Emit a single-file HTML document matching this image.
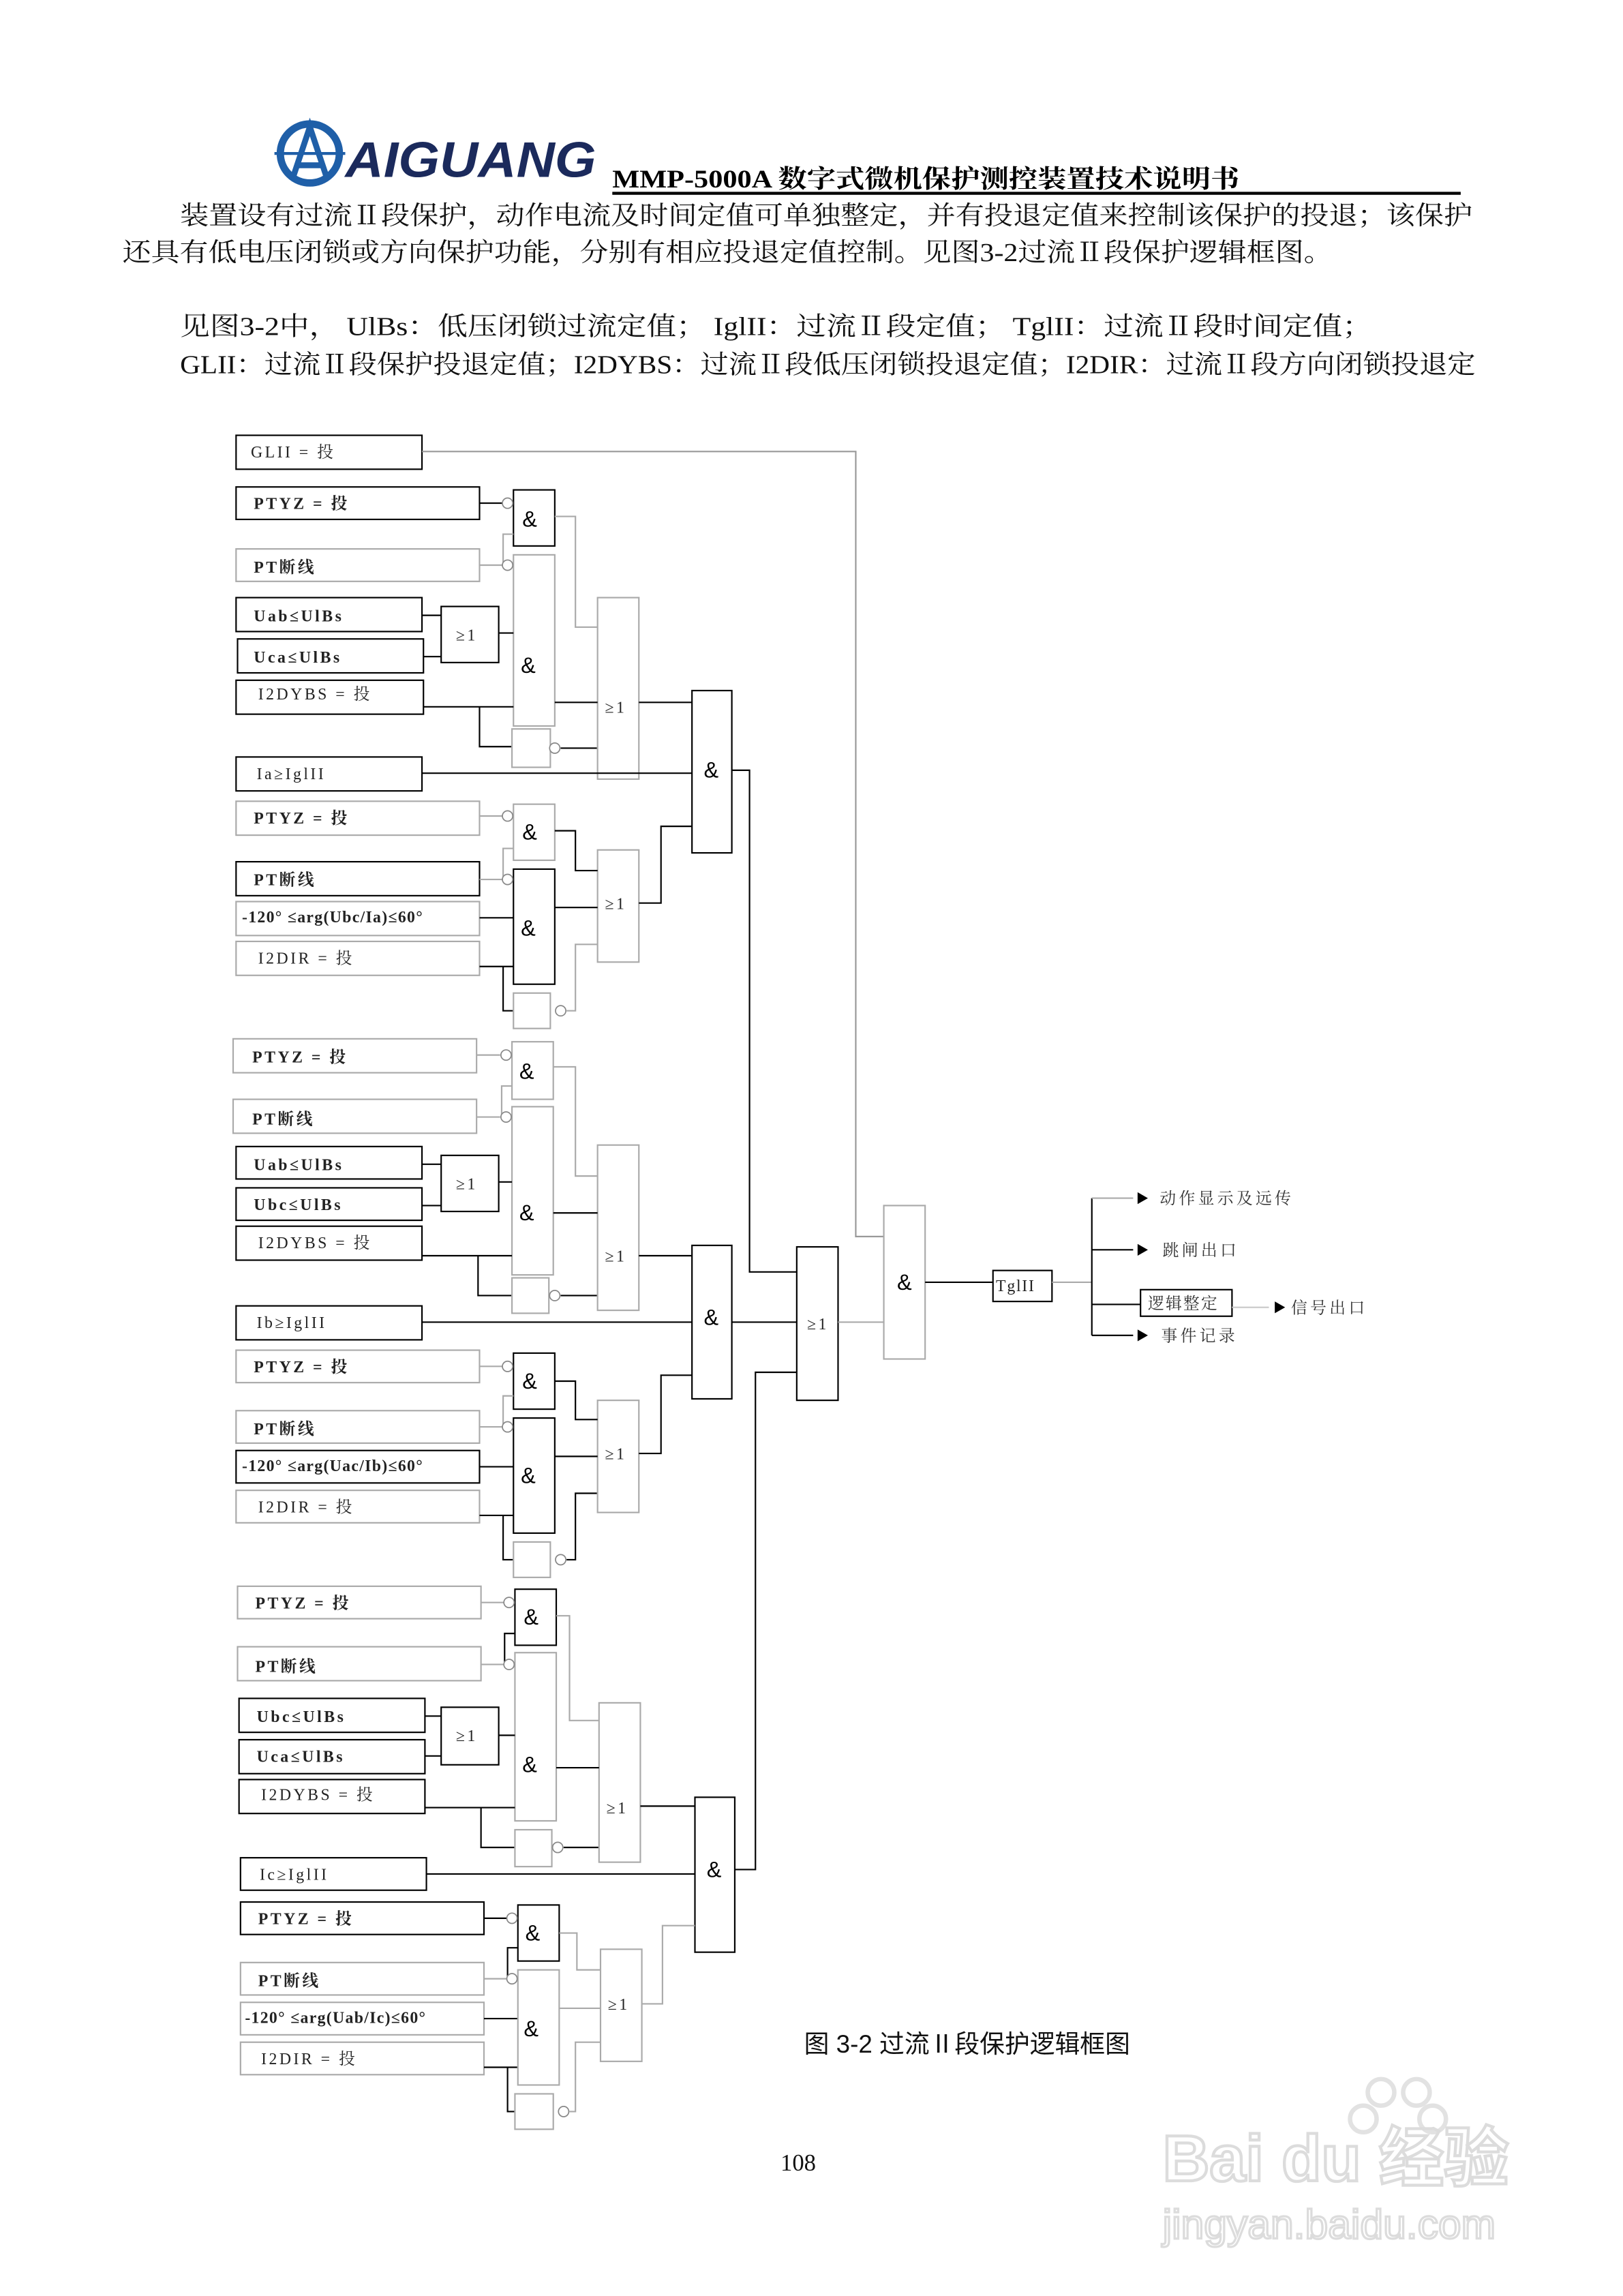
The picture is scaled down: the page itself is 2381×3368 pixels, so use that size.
<!DOCTYPE html>
<html><head><meta charset="utf-8"><style>
html,body{margin:0;padding:0;background:#fff;}
svg{display:block;}
.t{font-family:"Liberation Serif","Noto Serif CJK SC",serif;font-size:11px;letter-spacing:1.6px;fill:#222;}
.g{font-family:"Liberation Sans","Noto Sans CJK SC",sans-serif;font-size:15px;fill:#000;}
.o{font-family:"Liberation Serif","Noto Serif CJK SC",serif;font-size:11px;fill:#333;}
.p{font-family:"Liberation Serif","Noto Serif CJK SC",serif;font-size:17.5px;fill:#111;}
</style></head><body>
<svg width="2381" height="3368" viewBox="0 0 1100 1556" preserveAspectRatio="none" xmlns="http://www.w3.org/2000/svg">
<rect width="1100" height="1556" fill="#fff"/>
<!-- logo -->
<circle cx="210" cy="104" r="20" fill="none" stroke="#1f5fa8" stroke-width="5"/>
<path d="M198 122 L210 86 L222 122 M201 112 H219" fill="none" stroke="#1f5fa8" stroke-width="4"/>
<line x1="186" y1="104" x2="234" y2="104" stroke="#1f5fa8" stroke-width="2"/>
<text x="234" y="120" font-family="Liberation Sans,sans-serif" font-weight="bold" font-style="italic" font-size="34" fill="#1b2a5c" textLength="170" lengthAdjust="spacingAndGlyphs">AIGUANG</text>
<text x="415" y="127" font-family="Liberation Serif,Noto Serif CJK SC,serif" font-weight="bold" font-size="17" fill="#000" textLength="425" lengthAdjust="spacingAndGlyphs">MMP-5000A 数字式微机保护测控装置技术说明书</text>
<line x1="415" y1="131" x2="990" y2="131" stroke="#000" stroke-width="2"/>
<text class="p" x="122" y="152" textLength="876" lengthAdjust="spacingAndGlyphs">装置设有过流Ⅱ段保护，动作电流及时间定值可单独整定，并有投退定值来控制该保护的投退；该保护</text>
<text class="p" x="83" y="177" textLength="820" lengthAdjust="spacingAndGlyphs">还具有低电压闭锁或方向保护功能，分别有相应投退定值控制。见图3-2过流Ⅱ段保护逻辑框图。</text>
<text class="p" x="122" y="227" textLength="808" lengthAdjust="spacingAndGlyphs">见图3-2中， UlBs：低压闭锁过流定值； IglII：过流Ⅱ段定值； TglII：过流Ⅱ段时间定值；</text>
<text class="p" x="122" y="253" textLength="878" lengthAdjust="spacingAndGlyphs">GLII：过流Ⅱ段保护投退定值；I2DYBS：过流Ⅱ段低压闭锁投退定值；I2DIR：过流Ⅱ段方向闭锁投退定</text>

<g fill="none" stroke-width="1">
<!-- GLII -->
<rect x="160" y="295" width="126" height="23" stroke="#000"/>
<polyline points="286,306 580,306 580,838 599,838" stroke="#999"/>

<!-- ===== Section A ===== -->
<rect x="160" y="330" width="165" height="22" stroke="#000"/>
<line x1="325" y1="341" x2="341" y2="341" stroke="#000"/>
<rect x="348" y="332" width="28" height="38" stroke="#000"/>
<rect x="160" y="372" width="165" height="22" stroke="#aaa"/>
<line x1="325" y1="383" x2="341" y2="383" stroke="#aaa"/>
<polyline points="341,383 341,362 348,362" stroke="#aaa"/>
<rect x="348" y="376" width="28" height="116" stroke="#aaa"/>
<rect x="160" y="405" width="126" height="23" stroke="#000"/>
<rect x="161" y="433" width="126" height="23" stroke="#000"/>
<rect x="299" y="411" width="39" height="38" stroke="#000"/>
<line x1="286" y1="417" x2="299" y2="417" stroke="#000"/>
<line x1="287" y1="445" x2="299" y2="445" stroke="#000"/>
<line x1="338" y1="429" x2="348" y2="429" stroke="#000"/>
<rect x="160" y="461" width="127" height="23" stroke="#000"/>
<line x1="287" y1="479" x2="348" y2="479" stroke="#000"/>
<polyline points="325,479 325,506 347,506" stroke="#000"/>
<rect x="347" y="494" width="26" height="26" stroke="#aaa"/>
<line x1="380" y1="507" x2="405" y2="507" stroke="#000"/>
<rect x="405" y="405" width="28" height="123" stroke="#aaa"/>
<polyline points="376,350 390,350 390,425 405,425" stroke="#aaa"/>
<line x1="376" y1="476" x2="405" y2="476" stroke="#000"/>
<line x1="433" y1="476" x2="469" y2="476" stroke="#000"/>
<rect x="469" y="468" width="27" height="110" stroke="#000"/>
<rect x="160" y="513" width="126" height="23" stroke="#000"/>
<line x1="286" y1="524" x2="469" y2="524" stroke="#000"/>
<rect x="160" y="543" width="165" height="23" stroke="#aaa"/>
<line x1="325" y1="553" x2="341" y2="553" stroke="#aaa"/>
<rect x="348" y="545" width="28" height="38" stroke="#aaa"/>
<rect x="160" y="584" width="165" height="23" stroke="#000"/>
<line x1="325" y1="596" x2="341" y2="596" stroke="#aaa"/>
<polyline points="341,596 341,575 348,575" stroke="#aaa"/>
<rect x="160" y="611" width="165" height="23" stroke="#aaa"/>
<line x1="325" y1="622" x2="348" y2="622" stroke="#000"/>
<rect x="160" y="638" width="165" height="23" stroke="#aaa"/>
<line x1="325" y1="655" x2="348" y2="655" stroke="#000"/>
<polyline points="341,655 341,685 348,685" stroke="#000"/>
<rect x="348" y="589" width="28" height="78" stroke="#000"/>
<rect x="348" y="673" width="25" height="24" stroke="#aaa"/>
<polyline points="384,685 390,685 390,640 405,640" stroke="#aaa"/>
<rect x="405" y="576" width="28" height="76" stroke="#aaa"/>
<polyline points="376,563 390,563 390,590 405,590" stroke="#000"/>
<line x1="376" y1="615" x2="405" y2="615" stroke="#000"/>
<polyline points="433,612 448,612 448,560 469,560" stroke="#000"/>
<polyline points="496,522 508,522 508,862 540,862" stroke="#000"/>

<!-- ===== Section B ===== -->
<rect x="158" y="704" width="165" height="23" stroke="#aaa"/>
<line x1="323" y1="715" x2="339" y2="715" stroke="#aaa"/>
<rect x="347" y="706" width="28" height="39" stroke="#aaa"/>
<rect x="158" y="745" width="165" height="23" stroke="#aaa"/>
<line x1="323" y1="757" x2="339" y2="757" stroke="#aaa"/>
<polyline points="340,757 340,736 347,736" stroke="#aaa"/>
<rect x="347" y="750" width="28" height="114" stroke="#aaa"/>
<rect x="160" y="777" width="126" height="22" stroke="#000"/>
<rect x="160" y="805" width="126" height="22" stroke="#000"/>
<rect x="299" y="783" width="39" height="38" stroke="#000"/>
<line x1="286" y1="789" x2="299" y2="789" stroke="#000"/>
<line x1="286" y1="817" x2="299" y2="817" stroke="#000"/>
<line x1="338" y1="801" x2="347" y2="801" stroke="#000"/>
<rect x="160" y="831" width="126" height="23" stroke="#000"/>
<line x1="286" y1="851" x2="347" y2="851" stroke="#000"/>
<polyline points="324,851 324,878 347,878" stroke="#000"/>
<rect x="347" y="866" width="25" height="24" stroke="#aaa"/>
<line x1="380" y1="878" x2="405" y2="878" stroke="#000"/>
<rect x="405" y="776" width="28" height="112" stroke="#aaa"/>
<polyline points="375,723 390,723 390,797 405,797" stroke="#aaa"/>
<line x1="375" y1="822" x2="405" y2="822" stroke="#000"/>
<line x1="433" y1="851" x2="469" y2="851" stroke="#000"/>
<rect x="469" y="844" width="27" height="104" stroke="#000"/>
<rect x="160" y="885" width="126" height="23" stroke="#000"/>
<line x1="286" y1="896" x2="469" y2="896" stroke="#000"/>
<rect x="160" y="915" width="165" height="22" stroke="#aaa"/>
<line x1="325" y1="926" x2="341" y2="926" stroke="#aaa"/>
<rect x="348" y="917" width="28" height="38" stroke="#000"/>
<rect x="160" y="956" width="165" height="22" stroke="#aaa"/>
<line x1="325" y1="967" x2="341" y2="967" stroke="#aaa"/>
<polyline points="341,967 341,946 348,946" stroke="#aaa"/>
<rect x="160" y="983" width="165" height="22" stroke="#000"/>
<line x1="325" y1="994" x2="348" y2="994" stroke="#000"/>
<rect x="160" y="1010" width="165" height="22" stroke="#aaa"/>
<line x1="325" y1="1027" x2="348" y2="1027" stroke="#000"/>
<polyline points="341,1027 341,1057 348,1057" stroke="#000"/>
<rect x="348" y="961" width="28" height="78" stroke="#000"/>
<rect x="348" y="1045" width="25" height="24" stroke="#aaa"/>
<polyline points="384,1057 390,1057 390,1012 405,1012" stroke="#000"/>
<rect x="405" y="949" width="28" height="76" stroke="#aaa"/>
<polyline points="376,936 390,936 390,962 405,962" stroke="#000"/>
<line x1="376" y1="987" x2="405" y2="987" stroke="#000"/>
<polyline points="433,985 448,985 448,932 469,932" stroke="#000"/>
<line x1="496" y1="896" x2="540" y2="896" stroke="#000"/>

<!-- ===== Section C ===== -->
<rect x="161" y="1075" width="165" height="22" stroke="#aaa"/>
<line x1="326" y1="1086" x2="342" y2="1086" stroke="#aaa"/>
<rect x="349" y="1077" width="28" height="38" stroke="#000"/>
<rect x="161" y="1116" width="165" height="23" stroke="#aaa"/>
<line x1="326" y1="1128" x2="342" y2="1128" stroke="#aaa"/>
<polyline points="342,1128 342,1107 349,1107" stroke="#000"/>
<rect x="349" y="1120" width="28" height="114" stroke="#aaa"/>
<rect x="162" y="1151" width="126" height="23" stroke="#000"/>
<rect x="162" y="1179" width="126" height="23" stroke="#000"/>
<rect x="299" y="1157" width="39" height="39" stroke="#000"/>
<line x1="288" y1="1163" x2="299" y2="1163" stroke="#000"/>
<line x1="288" y1="1190" x2="299" y2="1190" stroke="#000"/>
<line x1="338" y1="1176" x2="349" y2="1176" stroke="#000"/>
<rect x="162" y="1206" width="126" height="23" stroke="#000"/>
<line x1="288" y1="1225" x2="349" y2="1225" stroke="#000"/>
<polyline points="326,1225 326,1252 349,1252" stroke="#000"/>
<rect x="349" y="1240" width="25" height="25" stroke="#aaa"/>
<line x1="382" y1="1252" x2="406" y2="1252" stroke="#000"/>
<rect x="406" y="1154" width="28" height="108" stroke="#aaa"/>
<polyline points="377,1095 386,1095 386,1166 406,1166" stroke="#aaa"/>
<line x1="377" y1="1198" x2="406" y2="1198" stroke="#000"/>
<line x1="434" y1="1224" x2="471" y2="1224" stroke="#000"/>
<rect x="471" y="1218" width="27" height="105" stroke="#000"/>
<rect x="163" y="1259" width="126" height="22" stroke="#000"/>
<line x1="289" y1="1270" x2="471" y2="1270" stroke="#000"/>
<rect x="163" y="1289" width="165" height="22" stroke="#000"/>
<line x1="328" y1="1300" x2="344" y2="1300" stroke="#000"/>
<rect x="351" y="1291" width="28" height="38" stroke="#000"/>
<rect x="163" y="1330" width="165" height="22" stroke="#aaa"/>
<line x1="328" y1="1341" x2="344" y2="1341" stroke="#aaa"/>
<polyline points="344,1341 344,1320 351,1320" stroke="#000"/>
<rect x="163" y="1357" width="165" height="22" stroke="#aaa"/>
<line x1="328" y1="1368" x2="351" y2="1368" stroke="#000"/>
<rect x="163" y="1384" width="165" height="22" stroke="#aaa"/>
<line x1="328" y1="1401" x2="351" y2="1401" stroke="#000"/>
<polyline points="344,1401 344,1431 349,1431" stroke="#000"/>
<rect x="351" y="1335" width="28" height="78" stroke="#aaa"/>
<rect x="349" y="1419" width="26" height="24" stroke="#aaa"/>
<polyline points="386,1431 390,1431 390,1384 407,1384" stroke="#aaa"/>
<rect x="407" y="1321" width="28" height="76" stroke="#aaa"/>
<polyline points="379,1310 391,1310 391,1335 407,1335" stroke="#aaa"/>
<line x1="379" y1="1361" x2="407" y2="1361" stroke="#aaa"/>
<polyline points="435,1358 449,1358 449,1305 471,1305" stroke="#aaa"/>
<polyline points="498,1267 512,1267 512,930 540,930" stroke="#000"/>

<!-- big gates -->
<rect x="540" y="845" width="28" height="104" stroke="#000"/>
<line x1="568" y1="896" x2="599" y2="896" stroke="#aaa"/>
<rect x="599" y="817" width="28" height="104" stroke="#aaa"/>
<line x1="627" y1="869" x2="673" y2="869" stroke="#000"/>
<rect x="673" y="861" width="40" height="21" stroke="#000"/>
<line x1="713" y1="869" x2="740" y2="869" stroke="#aaa"/>
<line x1="740" y1="812" x2="740" y2="905" stroke="#000"/>
<line x1="740" y1="812" x2="768" y2="812" stroke="#aaa"/>
<line x1="740" y1="847" x2="768" y2="847" stroke="#000"/>
<line x1="740" y1="884" x2="773" y2="884" stroke="#000"/>
<line x1="740" y1="905" x2="768" y2="905" stroke="#000"/>
<rect x="773" y="874" width="62" height="18" stroke="#000"/>
<line x1="835" y1="886" x2="860" y2="886" stroke="#ccc"/>
</g>
<!-- inversion circles -->
<g fill="#fff" stroke="#888" stroke-width="0.8">
<circle cx="344" cy="341" r="3.5"/><circle cx="344" cy="383" r="3.5"/><circle cx="376" cy="507" r="3.5"/>
<circle cx="344" cy="553" r="3.5"/><circle cx="344" cy="596" r="3.5"/><circle cx="380" cy="685" r="3.5"/>
<circle cx="343" cy="715" r="3.5"/><circle cx="343" cy="757" r="3.5"/><circle cx="376" cy="878" r="3.5"/>
<circle cx="344" cy="926" r="3.5"/><circle cx="344" cy="967" r="3.5"/><circle cx="380" cy="1057" r="3.5"/>
<circle cx="345" cy="1086" r="3.5"/><circle cx="345" cy="1128" r="3.5"/><circle cx="378" cy="1252" r="3.5"/>
<circle cx="347" cy="1300" r="3.5"/><circle cx="347" cy="1341" r="3.5"/><circle cx="382" cy="1431" r="3.5"/>
</g>
<!-- arrows -->
<g fill="#000">
<polygon points="771,808 778,812 771,816"/><polygon points="771,843 778,847 771,851"/>
<polygon points="771,901 778,905 771,909"/><polygon points="864,882 871,886 864,890"/>
</g>

<!-- labels -->
<g class="t">
<text x="170" y="310">GLII = 投</text>
<text x="172" y="345" font-weight="bold">PTYZ = 投</text>
<text x="172" y="388" font-weight="bold">PT断线</text>
<text x="172" y="421" font-weight="bold">Uab≤UlBs</text>
<text x="172" y="449" font-weight="bold">Uca≤UlBs</text>
<text x="175" y="474">I2DYBS = 投</text>
<text x="174" y="528">Ia≥IglII</text>
<text x="172" y="558" font-weight="bold">PTYZ = 投</text>
<text x="172" y="600" font-weight="bold">PT断线</text>
<text x="164" y="625" font-weight="bold" letter-spacing="0.6">-120° ≤arg(Ubc/Ia)≤60°</text>
<text x="175" y="653">I2DIR = 投</text>

<text x="171" y="720" font-weight="bold">PTYZ = 投</text>
<text x="171" y="762" font-weight="bold">PT断线</text>
<text x="172" y="793" font-weight="bold">Uab≤UlBs</text>
<text x="172" y="820" font-weight="bold">Ubc≤UlBs</text>
<text x="175" y="846">I2DYBS = 投</text>
<text x="174" y="900">Ib≥IglII</text>
<text x="172" y="930" font-weight="bold">PTYZ = 投</text>
<text x="172" y="972" font-weight="bold">PT断线</text>
<text x="164" y="997" font-weight="bold" letter-spacing="0.6">-120° ≤arg(Uac/Ib)≤60°</text>
<text x="175" y="1025">I2DIR = 投</text>

<text x="173" y="1090" font-weight="bold">PTYZ = 投</text>
<text x="173" y="1133" font-weight="bold">PT断线</text>
<text x="174" y="1167" font-weight="bold">Ubc≤UlBs</text>
<text x="174" y="1194" font-weight="bold">Uca≤UlBs</text>
<text x="177" y="1220">I2DYBS = 投</text>
<text x="176" y="1274">Ic≥IglII</text>
<text x="175" y="1304" font-weight="bold">PTYZ = 投</text>
<text x="175" y="1346" font-weight="bold">PT断线</text>
<text x="166" y="1371" font-weight="bold" letter-spacing="0.6">-120° ≤arg(Uab/Ic)≤60°</text>
<text x="177" y="1399">I2DIR = 投</text>

<text x="309" y="434">≥1</text><text x="410" y="483">≥1</text><text x="410" y="616">≥1</text>
<text x="309" y="806">≥1</text><text x="410" y="855">≥1</text><text x="410" y="989">≥1</text>
<text x="309" y="1180">≥1</text><text x="411" y="1229">≥1</text><text x="412" y="1362">≥1</text>
<text x="547" y="901">≥1</text>
<text x="675" y="875" letter-spacing="0.8">TglII</text>
</g>
<g class="g">
<text x="354" y="357">&amp;</text><text x="353" y="456">&amp;</text><text x="477" y="527">&amp;</text>
<text x="354" y="569">&amp;</text><text x="353" y="634">&amp;</text>
<text x="352" y="731">&amp;</text><text x="352" y="827">&amp;</text><text x="477" y="898">&amp;</text>
<text x="354" y="941">&amp;</text><text x="353" y="1005">&amp;</text>
<text x="355" y="1101">&amp;</text><text x="354" y="1201">&amp;</text><text x="479" y="1272">&amp;</text>
<text x="356" y="1315">&amp;</text><text x="355" y="1380">&amp;</text>
<text x="608" y="874">&amp;</text>
</g>
<g class="o">
<text x="786" y="816" letter-spacing="2">动作显示及远传</text>
<text x="788" y="851" letter-spacing="2">跳闸出口</text>
<text x="778" y="887" letter-spacing="1">逻辑整定</text>
<text x="875" y="890" letter-spacing="2">信号出口</text>
<text x="787" y="909" letter-spacing="2">事件记录</text>
</g>
<text x="545" y="1391" font-family="Liberation Sans,Noto Sans CJK SC,sans-serif" font-size="17" fill="#111">图 3-2 过流Ⅱ段保护逻辑框图</text>
<text x="529" y="1471" font-family="Liberation Serif,serif" font-size="16" fill="#111">108</text>
<!-- watermark -->
<g fill="none" stroke="#e2e2e2" stroke-width="3">
<circle cx="936" cy="1418" r="9"/><circle cx="960" cy="1418" r="9"/><circle cx="924" cy="1436" r="9"/><circle cx="971" cy="1436" r="9"/>
</g>
<text x="788" y="1478" font-family="Liberation Sans,Noto Sans CJK SC,sans-serif" font-weight="bold" font-size="44" fill="none" stroke="#dcdcdc" stroke-width="2">Bai du 经验</text>
<text x="788" y="1517" font-family="Liberation Sans,sans-serif" font-size="28" fill="none" stroke="#dcdcdc" stroke-width="1.5">jingyan.baidu.com</text>
</svg>
</body></html>
